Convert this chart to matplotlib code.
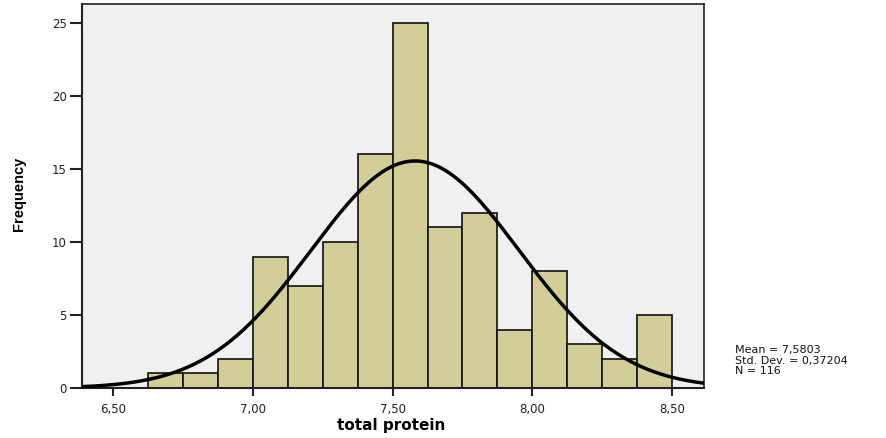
import matplotlib.pyplot as plt
import numpy as np

plt.rcParams["font.family"] = ["DejaVu Sans"]

# histogram bins (left edges) and counts
bin_left = [6.625, 6.75, 6.875, 7.0, 7.125, 7.25, 7.375, 7.5, 7.625, 7.75, 7.875, 8.0, 8.125, 8.25, 8.375]
counts = [1, 1, 2, 9, 7, 10, 16, 25, 11, 12, 4, 8, 3, 2, 5]
bin_width = 0.125
mean = 7.5803
std = 0.37204
n = 116
xticks = [6.5, 7.0, 7.5, 8.0, 8.5]
xtick_labels = ["6,50", "7,00", "7,50", "8,00", "8,50"]
yticks = [0, 5, 10, 15, 20, 25]

fig = plt.figure(figsize=(8.87, 4.38), dpi=100)
ax = fig.add_axes([0.0924, 0.1142, 0.7013, 0.8767])
ax.set_facecolor("#f0f0f0")

ax.bar(bin_left, counts, width=bin_width, align="edge",
       color="#d3ce98", edgecolor="#111111", linewidth=1.2, zorder=2)

xs = np.linspace(6.389, 8.614, 400)
ys = n * bin_width * np.exp(-0.5 * ((xs - mean) / std) ** 2) / (std * np.sqrt(2 * np.pi))
ax.plot(xs, ys, color="black", linewidth=2.5, zorder=3)

ax.set_xlim(6.389, 8.614)
ax.set_ylim(0, 26.3)
ax.set_xticks(xticks)
ax.set_xticklabels(xtick_labels)
ax.set_yticks(yticks)
ax.tick_params(direction="out", width=1.5, labelsize=8.5, color="#222222", labelcolor="#222222")
ax.tick_params(axis="x", length=5.5, pad=5)
ax.tick_params(axis="y", length=9, pad=2)
for s in ax.spines.values():
    s.set_linewidth(1.2)
    s.set_color("#222222")
ax.spines["left"].set_linewidth(1.5)
ax.spines["bottom"].set_linewidth(1.5)

ax.set_xlabel("total protein", fontsize=11, fontweight="bold")
ax.xaxis.set_label_coords(0.497, -0.078)
ax.set_ylabel("Frequency", family="Liberation Sans", fontsize=10.5, fontweight="bold")
ax.yaxis.set_label_coords(-0.09, 0.505)

fig.text(0.8287, 0.212, "Mean = 7,5803\nStd. Dev. = 0,37204\nN = 116",
         fontsize=8, va="top", ha="left", linespacing=1.05, color="#111111")

fig.savefig("out.png", dpi=100)
